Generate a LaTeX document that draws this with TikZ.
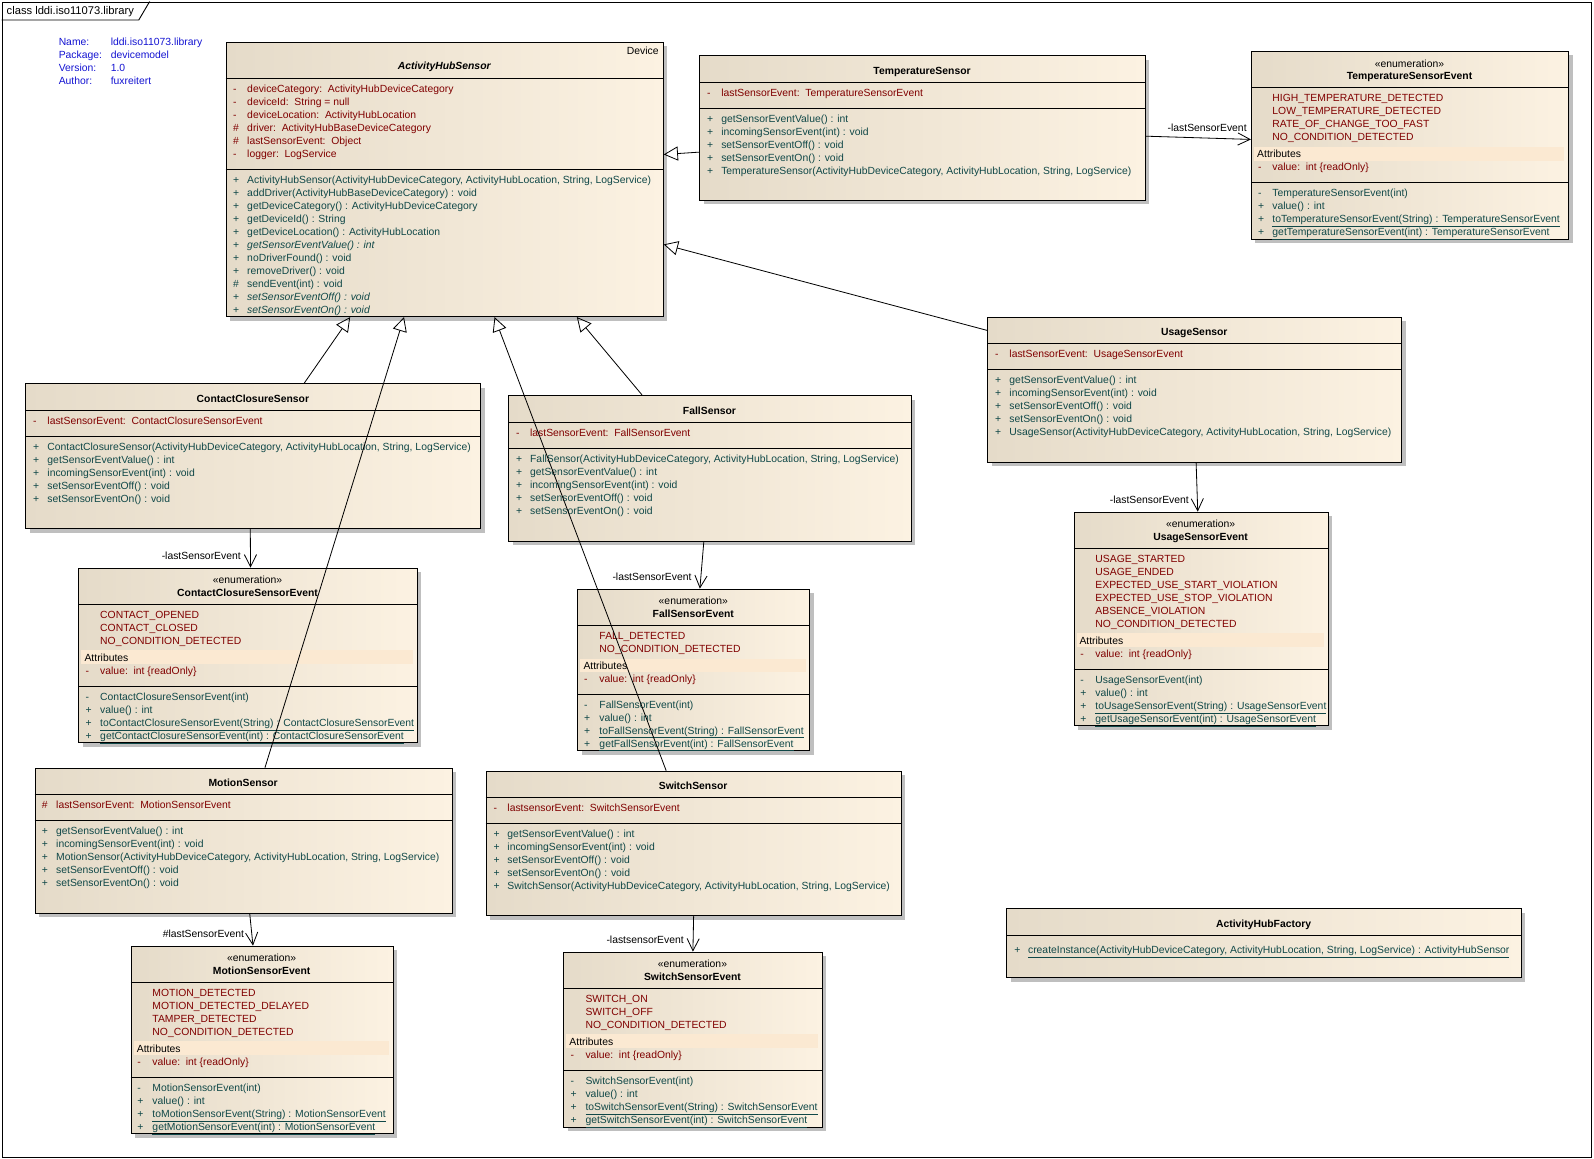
\documentclass[tikz,border=0pt]{standalone}
\usepackage{fontspec}
\setmainfont{Liberation Sans}
\usepackage{tikz}
\usetikzlibrary{arrows.meta, shadows}
\usepackage{xcolor}
\definecolor{attrred}{RGB}{128,0,0}
\definecolor{opteal}{RGB}{16,72,72}
\definecolor{infoblue}{RGB}{20,20,210}
\definecolor{boxleft}{RGB}{229,219,201}
\definecolor{boxright}{RGB}{252,242,226}
\definecolor{bandfill}{RGB}{251,233,210}
\newcommand{\umlfont}{\fontsize{10.2}{12.8}\selectfont}
\tikzset{
  cls/.style   ={draw, line width=0.9pt, anchor=north west, inner sep=0pt,
                 left color=boxleft, right color=boxright,
                 drop shadow={shadow xshift=4pt, shadow yshift=-4pt, fill=black!25, opacity=1}},
  frm/.style   ={draw, line width=0.9pt, anchor=north west, inner sep=0pt, fill=white},
  sep/.style   ={line width=0.9pt},
  ttl/.style   ={anchor=base, inner sep=0pt, font=\umlfont\bfseries},
  stereo/.style={anchor=base, inner sep=0pt, font=\umlfont},
  vis/.style   ={anchor=base west, inner sep=0pt, font=\umlfont},
  attr/.style  ={vis, text=attrred},
  op/.style    ={vis, text=opteal},
  lit/.style   ={vis, text=attrred},
  plain/.style ={vis, text=black},
  info/.style  ={vis, text=infoblue},
  role/.style  ={anchor=base east, inner sep=0pt, font=\umlfont},
  band/.style  ={fill=bandfill},
  gen/.style   ={-{Triangle[open, length=14pt, width=14pt]}, line width=0.8pt},  % generalization
  assoc/.style ={-{Straight Barb[length=12pt, width=12pt]}, line width=0.8pt},  % navigable association
}

\begin{document}
\begin{tikzpicture}[x=1pt, y=-1pt]
  \useasboundingbox (0,0) rectangle (1568,1140);

  % frame + header
  \node[frm, minimum width=1563.5, minimum height=1136.5] (frame) at (1.5,1.5) {};
  \draw[sep] (1.5,19.7) -- (136.5,19.7) -- (147.2,1.5);
  \node[vis, font=\fontsize{11}{13}\selectfont] (frame-lbl) at (6.4,14.6) {class lddi.iso11073.library};
  \foreach \k/\v [count=\i from 0] in {Name:/lddi.iso11073.library, Package:/devicemodel, Version:/1.0, Author:/fuxreitert}{
    \node[info] (info-k\i) at (57.6,44.7+12.8*\i) {\k};
    \node[info] (info-v\i) at (108.8,44.7+12.8*\i) {\v};
  }

  % ActivityHubSensor (abstract)
  \node[cls, minimum width=430, minimum height=270] (ahs) at (222,41) {};
  \node[stereo, anchor=base east] (ahs-st) at (648,53.5) {Device};
  \node[ttl, font=\umlfont\bfseries\itshape] (ahs-name) at (437,68.3) {ActivityHubSensor};
  \draw[sep] (222,77) -- (652,77);
  \draw[sep] (222,166.6) -- (652,166.6);
  \foreach \v/\t [count=\i from 0] in {-/{deviceCategory:\ \ ActivityHubDeviceCategory},
      -/{deviceId:\ \ String = null}, -/{deviceLocation:\ \ ActivityHubLocation},
      \#/{driver:\ \ ActivityHubBaseDeviceCategory}, \#/{lastSensorEvent:\ \ Object},
      -/{logger:\ \ LogService}}{
    \node[attr] (ahs-av\i) at (229,91.2+12.8*\i) {\v};
    \node[attr] (ahs-a\i) at (243,91.2+12.8*\i) {\t};
  }
  \foreach \v/\t [count=\i from 0] in {+/{ActivityHubSensor(ActivityHubDeviceCategory, ActivityHubLocation, String, LogService)},
      +/{addDriver(ActivityHubBaseDeviceCategory) : void}, +/{getDeviceCategory() : ActivityHubDeviceCategory},
      +/{getDeviceId() : String}, +/{getDeviceLocation() : ActivityHubLocation},
      +/{\itshape getSensorEventValue() : int}, +/{noDriverFound() : void}, +/{removeDriver() : void},
      \#/{sendEvent(int) : void}, +/{\itshape setSensorEventOff() : void}, +/{\itshape setSensorEventOn() : void}}{
    \node[op] (ahs-ov\i) at (229,180.4+12.8*\i) {\v};
    \node[op] (ahs-o\i) at (243,180.4+12.8*\i) {\t};
  }

  % TemperatureSensor
  \node[cls, minimum width=438, minimum height=142] (ts) at (688,54.5) {};
  \node[ttl] (ts-name) at (907,73.2) {TemperatureSensor};
  \draw[sep] (688,81.5) -- (1126,81.5);
  \draw[sep] (688,106.8) -- (1126,106.8);
  \node[attr] (ts-av) at (695.5,95.2) {-};
  \node[attr] (ts-a) at (709.3,95.2) {lastSensorEvent:\ \ TemperatureSensorEvent};
  \foreach \t [count=\i from 0] in {getSensorEventValue() : int, incomingSensorEvent(int) : void,
      setSensorEventOff() : void, setSensorEventOn() : void,
      {TemperatureSensor(ActivityHubDeviceCategory, ActivityHubLocation, String, LogService)}}{
    \node[op] (ts-ov\i) at (695.5,120.9+12.8*\i) {+};
    \node[op] (ts-o\i) at (709.3,120.9+12.8*\i) {\t};
  }

  % TemperatureSensorEvent
  \node[cls, minimum width=312, minimum height=185] (tse) at (1230.5,50) {};
  \node[stereo] (tse-st) at (1386.5,66) {«enumeration»};
  \node[ttl] (tse-name) at (1386.5,78.1) {TemperatureSensorEvent};
  \draw[sep] (1230.5,86) -- (1542.5,86);
  \foreach \t [count=\i from 0] in {HIGH\_TEMPERATURE\_DETECTED, LOW\_TEMPERATURE\_DETECTED,
      RATE\_OF\_CHANGE\_TOO\_FAST, NO\_CONDITION\_DETECTED}
    \node[lit] (tse-l\i) at (1251.5,99.8+12.8*\i) {\t};
  \fill[band] (1233.5,144.5) rectangle (1538.5,158);
  \node[plain] (tse-at) at (1236.5,154.9) {Attributes};
  \node[attr] (tse-av) at (1237.5,168) {-};
  \node[attr] (tse-a) at (1251.5,168) {value:\ \ int \{readOnly\}};
  \draw[sep] (1230.5,179.4) -- (1542.5,179.4);
  \foreach \v/\t [count=\i from 0] in {-/{TemperatureSensorEvent(int)}, +/{value() : int},
      +/{\underline{toTemperatureSensorEvent(String) : TemperatureSensorEvent}},
      +/{\underline{getTemperatureSensorEvent(int) : TemperatureSensorEvent}}}{
    \node[op] (tse-ov\i) at (1237.5,193.5+12.8*\i) {\v};
    \node[op] (tse-o\i) at (1251.5,193.5+12.8*\i) {\t};
  }

  % ContactClosureSensor
  \node[cls, minimum width=447.5, minimum height=142.5] (cc) at (25,377) {};
  \node[ttl] (cc-name) at (248.75,395.7) {ContactClosureSensor};
  \draw[sep] (25,404) -- (472.5,404);
  \draw[sep] (25,429) -- (472.5,429);
  \node[attr] (cc-av) at (32.5,417.5) {-};
  \node[attr] (cc-a) at (46.5,417.5) {lastSensorEvent:\ \ ContactClosureSensorEvent};
  \foreach \t [count=\i from 0] in {{ContactClosureSensor(ActivityHubDeviceCategory, ActivityHubLocation, String, LogService)},
      getSensorEventValue() : int, incomingSensorEvent(int) : void,
      setSensorEventOff() : void, setSensorEventOn() : void}{
    \node[op] (cc-ov\i) at (32.5,443.1+12.8*\i) {+};
    \node[op] (cc-o\i) at (46.5,443.1+12.8*\i) {\t};
  }

  % ContactClosureSensorEvent
  \node[cls, minimum width=333, minimum height=171.8] (cce) at (77,558.4) {};
  \node[stereo] (cce-st) at (243.5,574.2) {«enumeration»};
  \node[ttl] (cce-name) at (243.5,586.7) {ContactClosureSensorEvent};
  \draw[sep] (77,594.5) -- (410,594.5);
  \foreach \t [count=\i from 0] in {CONTACT\_OPENED, CONTACT\_CLOSED, NO\_CONDITION\_DETECTED}
    \node[lit] (cce-l\i) at (98.4,608.3+12.8*\i) {\t};
  \fill[band] (80,639.4) rectangle (406.5,653.2);
  \node[plain] (cce-at) at (83,650.3) {Attributes};
  \node[attr] (cce-av) at (84,663.4) {-};
  \node[attr] (cce-a) at (98.4,663.4) {value:\ \ int \{readOnly\}};
  \draw[sep] (77,674.8) -- (410,674.8);
  \foreach \v/\t [count=\i from 0] in {-/{ContactClosureSensorEvent(int)}, +/{value() : int},
      +/{\underline{toContactClosureSensorEvent(String) : ContactClosureSensorEvent}},
      +/{\underline{getContactClosureSensorEvent(int) : ContactClosureSensorEvent}}}{
    \node[op] (cce-ov\i) at (84,689+12.8*\i) {\v};
    \node[op] (cce-o\i) at (98.4,689+12.8*\i) {\t};
  }

  % FallSensor
  \node[cls, minimum width=395.8, minimum height=143.2] (fs) at (500,388.6) {};
  \node[ttl] (fs-name) at (697.9,407.7) {FallSensor};
  \draw[sep] (500,415.4) -- (895.8,415.4);
  \draw[sep] (500,441) -- (895.8,441);
  \node[attr] (fs-av) at (507.6,429.3) {-};
  \node[attr] (fs-a) at (521.3,429.3) {lastSensorEvent:\ \ FallSensorEvent};
  \foreach \t [count=\i from 0] in {{FallSensor(ActivityHubDeviceCategory, ActivityHubLocation, String, LogService)},
      getSensorEventValue() : int, incomingSensorEvent(int) : void,
      setSensorEventOff() : void, setSensorEventOn() : void}{
    \node[op] (fs-ov\i) at (507.6,454.9+12.8*\i) {+};
    \node[op] (fs-o\i) at (521.3,454.9+12.8*\i) {\t};
  }

  % FallSensorEvent
  \node[cls, minimum width=228.2, minimum height=158.8] (fse) at (567.9,579) {};
  \node[stereo] (fse-st) at (682,594.5) {«enumeration»};
  \node[ttl] (fse-name) at (682,607) {FallSensorEvent};
  \draw[sep] (567.9,615.4) -- (796.1,615.4);
  \foreach \t [count=\i from 0] in {FALL\_DETECTED, NO\_CONDITION\_DETECTED}
    \node[lit] (fse-l\i) at (589.5,628.7+12.8*\i) {\t};
  \fill[band] (571,647.9) rectangle (792.5,661);
  \node[plain] (fse-at) at (573.8,658.2) {Attributes};
  \node[attr] (fse-av) at (574.5,671.3) {-};
  \node[attr] (fse-a) at (589.5,671.3) {value:\ \ int \{readOnly\}};
  \draw[sep] (567.9,682.7) -- (796.1,682.7);
  \foreach \v/\t [count=\i from 0] in {-/{FallSensorEvent(int)}, +/{value() : int},
      +/{\underline{toFallSensorEvent(String) : FallSensorEvent}},
      +/{\underline{getFallSensorEvent(int) : FallSensorEvent}}}{
    \node[op] (fse-ov\i) at (574.5,696.5+12.8*\i) {\v};
    \node[op] (fse-o\i) at (589.5,696.5+12.8*\i) {\t};
  }

  % UsageSensor
  \node[cls, minimum width=407.3, minimum height=142.6] (us) at (971.2,311.5) {};
  \node[ttl] (us-name) at (1174.85,329.9) {UsageSensor};
  \draw[sep] (971.2,337.7) -- (1378.5,337.7);
  \draw[sep] (971.2,363.3) -- (1378.5,363.3);
  \node[attr] (us-av) at (978.7,351.6) {-};
  \node[attr] (us-a) at (992.8,351.6) {lastSensorEvent:\ \ UsageSensorEvent};
  \foreach \t [count=\i from 0] in {getSensorEventValue() : int, incomingSensorEvent(int) : void,
      setSensorEventOff() : void, setSensorEventOn() : void,
      {UsageSensor(ActivityHubDeviceCategory, ActivityHubLocation, String, LogService)}}{
    \node[op] (us-ov\i) at (978.7,377.2+12.8*\i) {+};
    \node[op] (us-o\i) at (992.8,377.2+12.8*\i) {\t};
  }

  % UsageSensorEvent
  \node[cls, minimum width=249.9, minimum height=209.9] (use) at (1056.1,503.3) {};
  \node[stereo] (use-st) at (1181,518.8) {«enumeration»};
  \node[ttl] (use-name) at (1181,531.6) {UsageSensorEvent};
  \draw[sep] (1056.1,539.7) -- (1306,539.7);
  \foreach \t [count=\i from 0] in {USAGE\_STARTED, USAGE\_ENDED, EXPECTED\_USE\_START\_VIOLATION,
      EXPECTED\_USE\_STOP\_VIOLATION, ABSENCE\_VIOLATION, NO\_CONDITION\_DETECTED}
    \node[lit] (use-l\i) at (1077.4,553.2+12.8*\i) {\t};
  \fill[band] (1059,623) rectangle (1302,636.1);
  \node[plain] (use-at) at (1061.7,633.9) {Attributes};
  \node[attr] (use-av) at (1062.5,646.7) {-};
  \node[attr] (use-a) at (1077.4,646.7) {value:\ \ int \{readOnly\}};
  \draw[sep] (1056.1,658.7) -- (1306,658.7);
  \foreach \v/\t [count=\i from 0] in {-/{UsageSensorEvent(int)}, +/{value() : int},
      +/{\underline{toUsageSensorEvent(String) : UsageSensorEvent}},
      +/{\underline{getUsageSensorEvent(int) : UsageSensorEvent}}}{
    \node[op] (use-ov\i) at (1062.5,672.6+12.8*\i) {\v};
    \node[op] (use-o\i) at (1077.4,672.6+12.8*\i) {\t};
  }

  % MotionSensor
  \node[cls, minimum width=410.2, minimum height=142.7] (ms) at (34.1,755.1) {};
  \node[ttl] (ms-name) at (239.2,773.6) {MotionSensor};
  \draw[sep] (34.1,781.4) -- (444.3,781.4);
  \draw[sep] (34.1,806.9) -- (444.3,806.9);
  \node[attr] (ms-av) at (41,794.9) {\#};
  \node[attr] (ms-a) at (55.1,794.9) {lastSensorEvent:\ \ MotionSensorEvent};
  \foreach \t [count=\i from 0] in {getSensorEventValue() : int, incomingSensorEvent(int) : void,
      {MotionSensor(ActivityHubDeviceCategory, ActivityHubLocation, String, LogService)},
      setSensorEventOff() : void, setSensorEventOn() : void}{
    \node[op] (ms-ov\i) at (41,820.8+12.8*\i) {+};
    \node[op] (ms-o\i) at (55.1,820.8+12.8*\i) {\t};
  }

  % MotionSensorEvent
  \node[cls, minimum width=257.8, minimum height=184.6] (mse) at (128.5,930.2) {};
  \node[stereo] (mse-st) at (257.4,946.1) {«enumeration»};
  \node[ttl] (mse-name) at (257.4,958.5) {MotionSensorEvent};
  \draw[sep] (128.5,966.3) -- (386.3,966.3);
  \foreach \t [count=\i from 0] in {MOTION\_DETECTED, MOTION\_DETECTED\_DELAYED, TAMPER\_DETECTED,
      NO\_CONDITION\_DETECTED}
    \node[lit] (mse-l\i) at (149.8,980.1+12.8*\i) {\t};
  \fill[band] (131.5,1024) rectangle (382.5,1037.8);
  \node[plain] (mse-at) at (134.4,1035.2) {Attributes};
  \node[attr] (mse-av) at (135,1048) {-};
  \node[attr] (mse-a) at (149.8,1048) {value:\ \ int \{readOnly\}};
  \draw[sep] (128.5,1059.7) -- (386.3,1059.7);
  \foreach \v/\t [count=\i from 0] in {-/{MotionSensorEvent(int)}, +/{value() : int},
      +/{\underline{toMotionSensorEvent(String) : MotionSensorEvent}},
      +/{\underline{getMotionSensorEvent(int) : MotionSensorEvent}}}{
    \node[op] (mse-ov\i) at (135,1073.6+12.8*\i) {\v};
    \node[op] (mse-o\i) at (149.8,1073.6+12.8*\i) {\t};
  }

  % SwitchSensor
  \node[cls, minimum width=408.3, minimum height=142.3] (ss) at (477.7,758.1) {};
  \node[ttl] (ss-name) at (681.85,776.5) {SwitchSensor};
  \draw[sep] (477.7,784.3) -- (886,784.3);
  \draw[sep] (477.7,809.6) -- (886,809.6);
  \node[attr] (ss-av) at (485.3,798.2) {-};
  \node[attr] (ss-a) at (499,798.2) {lastsensorEvent:\ \ SwitchSensorEvent};
  \foreach \t [count=\i from 0] in {getSensorEventValue() : int, incomingSensorEvent(int) : void,
      setSensorEventOff() : void, setSensorEventOn() : void,
      {SwitchSensor(ActivityHubDeviceCategory, ActivityHubLocation, String, LogService)}}{
    \node[op] (ss-ov\i) at (485.3,823.8+12.8*\i) {+};
    \node[op] (ss-o\i) at (499,823.8+12.8*\i) {\t};
  }

  % SwitchSensorEvent
  \node[cls, minimum width=254.1, minimum height=172.2] (sse) at (554.1,936.1) {};
  \node[stereo] (sse-st) at (681.15,951.6) {«enumeration»};
  \node[ttl] (sse-name) at (681.15,964.4) {SwitchSensorEvent};
  \draw[sep] (554.1,972.5) -- (808.2,972.5);
  \foreach \t [count=\i from 0] in {SWITCH\_ON, SWITCH\_OFF, NO\_CONDITION\_DETECTED}
    \node[lit] (sse-l\i) at (575.8,985.7+12.8*\i) {\t};
  \fill[band] (557,1017.1) rectangle (804.5,1030.6);
  \node[plain] (sse-at) at (560,1028.4) {Attributes};
  \node[attr] (sse-av) at (561,1041.1) {-};
  \node[attr] (sse-a) at (575.8,1041.1) {value:\ \ int \{readOnly\}};
  \draw[sep] (554.1,1052.8) -- (808.2,1052.8);
  \foreach \v/\t [count=\i from 0] in {-/{SwitchSensorEvent(int)}, +/{value() : int},
      +/{\underline{toSwitchSensorEvent(String) : SwitchSensorEvent}},
      +/{\underline{getSwitchSensorEvent(int) : SwitchSensorEvent}}}{
    \node[op] (sse-ov\i) at (561,1066.7+12.8*\i) {\v};
    \node[op] (sse-o\i) at (575.8,1066.7+12.8*\i) {\t};
  }

  % ActivityHubFactory
  \node[cls, minimum width=506, minimum height=68] (ahf) at (990,893.5) {};
  \node[ttl] (ahf-name) at (1243,912.6) {ActivityHubFactory};
  \draw[sep] (990,919.7) -- (1496,919.7);
  \node[op] (ahf-ov) at (997.7,938.2) {+};
  \node[op] (ahf-o) at (1011.1,938.2)
    {\underline{createInstance(ActivityHubDeviceCategory, ActivityHubLocation, String, LogService) : ActivityHubSensor}};

  % generalizations
  \draw[gen] ([yshift=-23.7pt]ts.west) -- ([yshift=24.5pt]ahs.east);
  \draw[gen] ([yshift=58.2pt]us.west) -- ([yshift=-64pt]ahs.east);
  \draw[gen] ([xshift=50pt]cc.north) -- ([xshift=-93pt]ahs.south);
  \draw[gen] ([xshift=21pt]ms.north) -- ([xshift=-40pt]ahs.south);
  \draw[gen] ([xshift=-27pt]ss.north) -- ([xshift=49pt]ahs.south);
  \draw[gen] ([xshift=-66.7pt]fs.north) -- ([xshift=130pt]ahs.south);

  % associations
  \draw[assoc] ([yshift=-8pt]ts.east) -- ([yshift=5.8pt]tse.west);
  \draw[assoc] ([xshift=-3pt]cc.south) -- ([xshift=2.5pt]cce.north);
  \draw[assoc] ([xshift=-6pt]fs.south) -- ([xshift=6pt]fse.north);
  \draw[assoc] ([xshift=1.3pt]us.south) -- ([xshift=-3.3pt]use.north);
  \draw[assoc] ([xshift=6pt]ms.south) -- ([xshift=-9pt]mse.north);
  \draw[assoc] (ss.south) -- (sse.north);
  \node[role] (ts-role) at (1226.5,128.9) {-lastSensorEvent};
  \node[role] (cc-role) at (237,550.3) {-lastSensorEvent};
  \node[role] (fs-role) at (680.4,571) {-lastSensorEvent};
  \node[role] (us-role) at (1169.6,495.5) {-lastSensorEvent};
  \node[role] (ms-role) at (240.3,922.1) {\#lastSensorEvent};
  \node[role] (ss-role) at (672.8,928.3) {-lastsensorEvent};
\end{tikzpicture}
\end{document}
